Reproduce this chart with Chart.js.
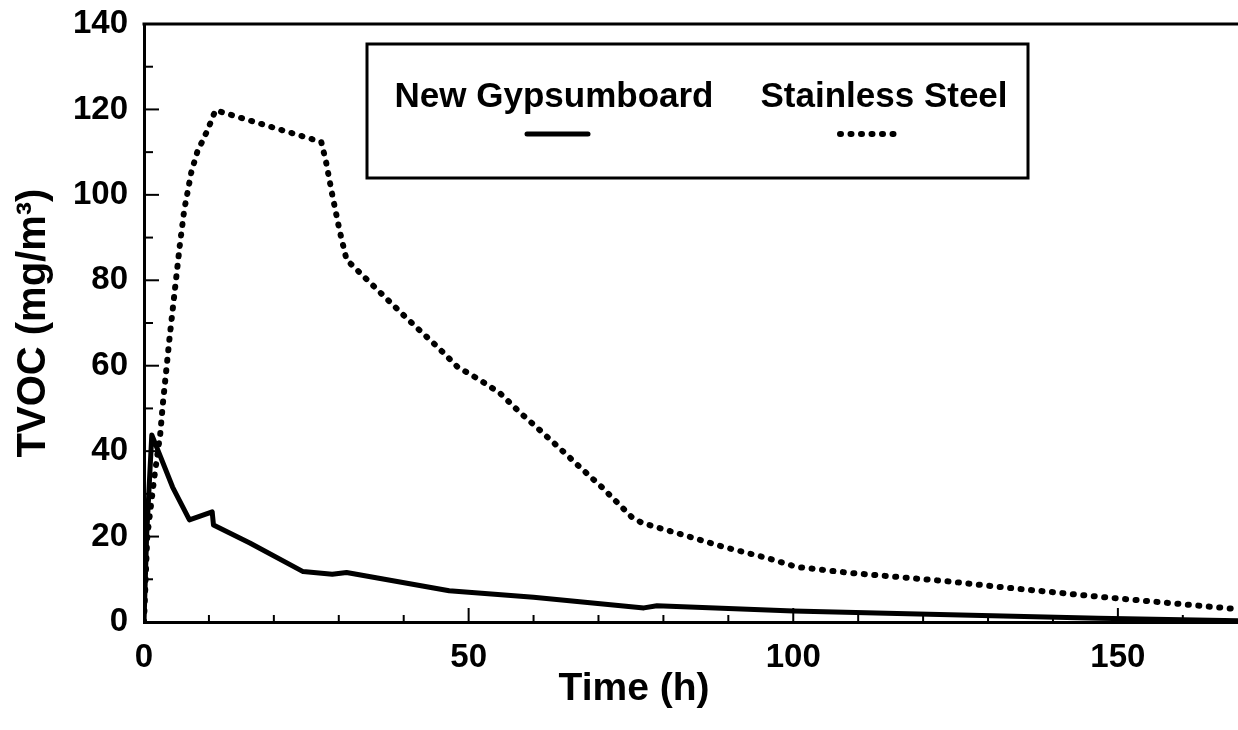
<!DOCTYPE html>
<html>
<head>
<meta charset="utf-8">
<script src="https://cdn.jsdelivr.net/npm/chart.js@4.4.1/dist/chart.umd.min.js"></script>
<style>
  html, body { margin: 0; padding: 0; background: #fff; }
  #wrap { width: 1238px; height: 730px; }
</style>
</head>
<body>
<div id="wrap"><canvas id="c" width="1238" height="730"></canvas></div>
<script>
// ---- data ----
const seriesNames = ["New Gypsumboard", "Stainless Steel"];

const timeGypsum = [0, 0.4, 1.2, 4.4, 7.0, 10.5, 10.7, 16.3, 24.5, 29.0, 31.2, 47.0, 60.0, 77.0, 79.0, 100.0, 116.0, 147.0, 168.5];
const tvocGypsum = [0, 20, 43.8, 31.6, 23.9, 25.8, 22.7, 18.5, 11.8, 11.2, 11.6, 7.3, 5.8, 3.3, 3.8, 2.6, 2.0, 0.9, 0.3];

const timeSteel = [0, 0.5, 1.6, 2.5, 2.9, 3.9, 4.7, 5.5, 6.2, 7.3, 8.2, 9.8, 11.0, 27.3, 28.0, 29.0, 30.1, 31.2, 36.0, 40.4, 45.2, 48.3, 51.7, 54.8, 57.8, 60.9, 64.0, 67.1, 70.5, 75.1, 76.7, 83.0, 89.2, 95.9, 100.5, 108.7, 116.4, 124.0, 131.8, 147.2, 168.5];
const tvocSteel  = [0, 20, 34, 44, 51, 66, 77, 88, 96.5, 105.4, 110, 115.2, 119.8, 112.4, 108, 100, 91.8, 84.8, 77.7, 71.2, 64.4, 59.7, 56.7, 53.6, 49.2, 45.0, 40.7, 36.3, 31.6, 24.6, 23.2, 20.4, 17.6, 15.0, 12.9, 11.5, 10.5, 9.5, 8.2, 5.9, 3.0];

const xMin = 0, xMax = 168.5, xStep = 10, xLabelEvery = 50;
const yMin = 0, yMax = 140, yStep = 20, yMinorStep = 10;
const xTitle = "Time (h)";
const yTitle = "TVOC (mg/m\u00B3)";

const FONT = "'Liberation Sans', Arial, Helvetica, sans-serif";

const toPts = (xs, ys) => xs.map((x, i) => ({ x: x, y: ys[i] }));

// custom decorations: inward tick marks, top frame line, boxed legend, x title
const decor = {
  id: 'decor',
  afterDraw(chart) {
    const ctx = chart.ctx;
    const xs = chart.scales.x, ys = chart.scales.y;
    const ca = chart.chartArea;
    ctx.save();
    ctx.strokeStyle = '#000';
    ctx.lineCap = 'butt';
    // top frame line
    ctx.lineWidth = 3;
    ctx.beginPath();
    ctx.moveTo(ca.left - 1.5, ca.top);
    ctx.lineTo(ca.right, ca.top);
    ctx.stroke();
    // x ticks (inward)
    ctx.lineWidth = 2;
    for (let v = xMin; v <= xMax + 1e-9; v += xStep) {
      const px = xs.getPixelForValue(v);
      const major = Math.abs(v % xLabelEvery) < 1e-9;
      const len = major ? 14 : 7;
      ctx.beginPath();
      ctx.moveTo(px, ca.bottom);
      ctx.lineTo(px, ca.bottom - len);
      ctx.stroke();
    }
    // y ticks (inward)
    for (let v = yMin; v <= yMax + 1e-9; v += yMinorStep) {
      const py = ys.getPixelForValue(v);
      const major = Math.abs(v % yStep) < 1e-9;
      const len = major ? 15 : 9;
      ctx.beginPath();
      ctx.moveTo(ca.left, py);
      ctx.lineTo(ca.left + len, py);
      ctx.stroke();
    }
    // x axis title (placed as in the cropped original)
    ctx.fillStyle = '#000';
    ctx.font = "bold 39px " + FONT;
    ctx.textAlign = 'center';
    ctx.textBaseline = 'alphabetic';
    ctx.fillText(xTitle, 634, 700);
    // legend box
    const bx = 367, by = 44, bw = 661, bh = 134;
    ctx.lineWidth = 3;
    ctx.strokeRect(bx, by, bw, bh);
    ctx.font = "bold 35px " + FONT;
    const items = [
      { text: seriesNames[0], cx: 554, x1: 527, x2: 588, ds: chart.data.datasets[0] },
      { text: seriesNames[1], cx: 884, x1: 840, x2: 898, ds: chart.data.datasets[1] }
    ];
    items.forEach(it => {
      ctx.fillText(it.text, it.cx, 107);
      ctx.save();
      ctx.strokeStyle = it.ds.borderColor;
      ctx.lineWidth = it.ds.borderWidth;
      ctx.lineCap = it.ds.borderCapStyle || 'butt';
      ctx.setLineDash(it.ds.borderDash || []);
      ctx.beginPath();
      ctx.moveTo(it.x1, 134);
      ctx.lineTo(it.x2, 134);
      ctx.stroke();
      ctx.restore();
    });
    ctx.restore();
  }
};

new Chart(document.getElementById('c'), {
  type: 'line',
  data: {
    datasets: [
      {
        label: seriesNames[0],
        data: toPts(timeGypsum, tvocGypsum),
        borderColor: '#000',
        borderWidth: 5,
        borderCapStyle: 'round',
        borderJoinStyle: 'round',
        pointRadius: 0,
        tension: 0,
        fill: false
      },
      {
        label: seriesNames[1],
        data: toPts(timeSteel, tvocSteel),
        borderColor: '#000',
        borderWidth: 6,
        borderCapStyle: 'round',
        borderDash: [1, 9.5],
        pointRadius: 0,
        tension: 0,
        fill: false
      }
    ]
  },
  options: {
    responsive: false,
    animation: false,
    events: [],
    layout: { padding: { left: 0, top: 24, right: 0, bottom: 0 } },
    plugins: { legend: { display: false }, tooltip: { enabled: false } },
    scales: {
      x: {
        type: 'linear',
        min: xMin, max: xMax,
        afterFit: (s) => { s.height = 108; s.paddingLeft = 0; s.paddingRight = 0; },
        grid: { display: false, drawTicks: false },
        border: { display: true, color: '#000', width: 3 },
        ticks: {
          stepSize: xStep,
          autoSkip: false,
          maxRotation: 0,
          padding: 16,
          color: '#000',
          font: { family: FONT, size: 33, weight: 'bold' },
          callback: (v) => (Math.abs(v % xLabelEvery) < 1e-9 ? String(v) : '')
        },
        title: { display: false, text: xTitle }
      },
      y: {
        type: 'linear',
        min: yMin, max: yMax,
        afterFit: (s) => { s.width = 144; s.paddingTop = 0; s.paddingBottom = 0; },
        grid: { display: false, drawTicks: false },
        border: { display: true, color: '#000', width: 3 },
        ticks: {
          stepSize: yStep,
          padding: 16,
          color: '#000',
          font: { family: FONT, size: 33, weight: 'bold' }
        },
        title: {
          display: true,
          text: yTitle,
          color: '#000',
          font: { family: FONT, size: 40, weight: 'bold' },
          padding: { top: 10, bottom: 0 }
        }
      }
    }
  },
  plugins: [decor]
});
</script>
</body>
</html>
